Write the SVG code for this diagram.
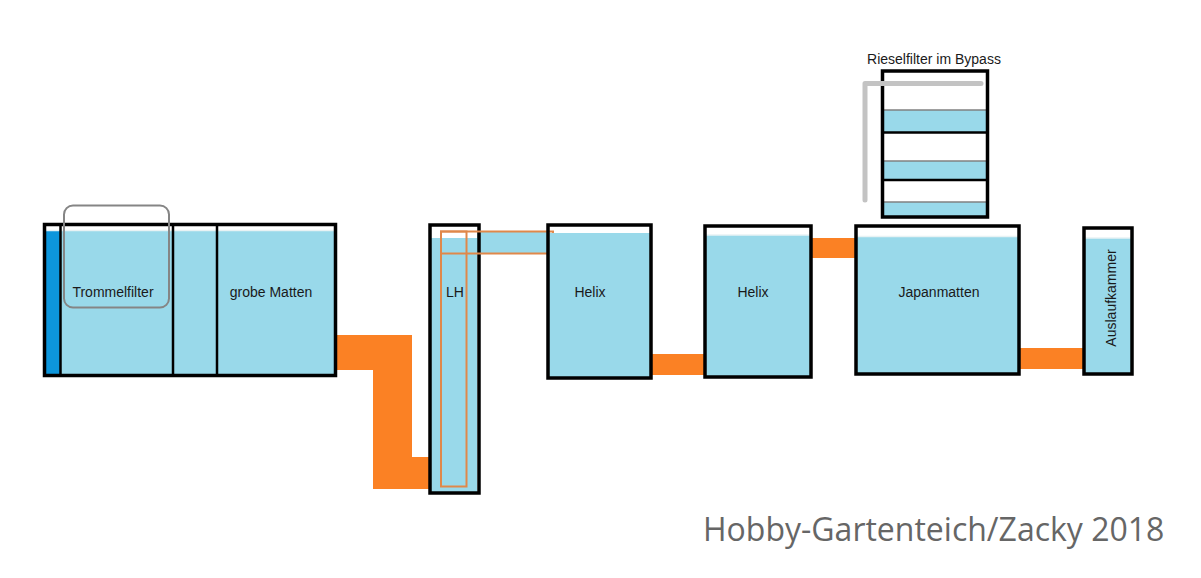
<svg xmlns="http://www.w3.org/2000/svg" width="1201" height="578" viewBox="0 0 1201 578">
<style>
.tank{fill:none;stroke:#000;stroke-width:3.5}
.water{fill:#99d9ea}
.surf{stroke:#e8f2f4;stroke-width:1.5}
.pipe{fill:#fb8124}
.lbl{font-family:"Liberation Sans",Arial,sans-serif;font-size:14px;fill:#1a1a1a;text-anchor:middle}
.div{stroke:#000;stroke-width:2.5}
.lhpipe{fill:none;stroke:#e0884a;stroke-width:2}
.gline{stroke:#808080;stroke-width:1.5}
</style>
<rect width="1201" height="578" fill="#fff"/>
<g id="connectors">
<polygon class="pipe" points="336,335 412,335 412,457 434,457 434,489 373,489 373,370 336,370"/>
<rect class="pipe" x="651" y="354" width="55" height="21"/>
<rect class="pipe" x="811" y="238" width="46" height="20"/>
<rect class="pipe" x="1019" y="348" width="66" height="21"/>
</g>
<g id="trommelfilter-tank">
<rect class="water" x="45" y="231" width="290" height="144"/>
<rect x="45" y="231" width="15" height="144" fill="#0d96dc"/>
<line class="surf" x1="45" y1="230.5" x2="335" y2="230.5"/>
<line class="div" x1="60.5" y1="224" x2="60.5" y2="376"/>
<line class="div" x1="173" y1="224" x2="173" y2="376"/>
<line class="div" x1="217" y1="224" x2="217" y2="376"/>
<rect class="tank" x="44.5" y="224.5" width="291" height="151"/>
<rect x="64" y="205.5" width="105" height="102" rx="9" fill="none" stroke="#858585" stroke-width="2"/>
<text class="lbl" x="113" y="297">Trommelfilter</text>
<text class="lbl" x="271" y="297">grobe Matten</text>
</g>
<g id="lh">
<rect class="water" x="431" y="238" width="46" height="254"/>
<rect class="water" x="477" y="232" width="72" height="21"/>
<rect class="tank" x="430" y="225" width="49" height="268"/>
<rect class="lhpipe" x="441" y="231.5" width="25.5" height="255"/>
<rect class="lhpipe" x="441" y="231.5" width="112" height="22"/>
<text class="lbl" x="455" y="297">LH</text>
</g>
<g id="helix1">
<rect class="water" x="549" y="233" width="101" height="144"/>
<rect class="tank" x="548" y="225" width="103" height="153"/>
<text class="lbl" x="590" y="297">Helix</text>
</g>
<g id="helix2">
<rect class="water" x="706" y="235" width="104" height="141"/>
<line class="surf" x1="706" y1="235" x2="810" y2="235"/>
<rect class="tank" x="705" y="226" width="106" height="151"/>
<text class="lbl" x="753" y="297">Helix</text>
</g>
<g id="rieselfilter">
<text class="lbl" x="934" y="64" font-size="13">Rieselfilter im Bypass</text>
<rect class="water" x="883" y="110" width="103" height="22"/>
<rect class="water" x="883" y="161" width="103" height="19"/>
<rect class="water" x="883" y="202" width="103" height="15"/>
<line class="gline" x1="883" y1="110" x2="986" y2="110"/>
<line class="gline" x1="883" y1="161" x2="986" y2="161"/>
<line class="gline" x1="883" y1="202" x2="986" y2="202"/>
<line class="div" x1="882" y1="132.5" x2="988" y2="132.5"/>
<line class="div" x1="882" y1="180" x2="988" y2="180"/>
<rect class="tank" x="882.5" y="71" width="105" height="146"/>
<polyline points="865,200 865,83.5 981,83.5" fill="none" stroke="#c3c3c3" stroke-width="5" stroke-linecap="round" stroke-linejoin="round"/>
</g>
<g id="japanmatten">
<rect class="water" x="857" y="237" width="161" height="136"/>
<line class="surf" x1="857" y1="236.5" x2="1018" y2="236.5"/>
<rect class="tank" x="856" y="226" width="163" height="148"/>
<text class="lbl" x="939" y="297">Japanmatten</text>
</g>
<g id="auslaufkammer">
<rect class="water" x="1085" y="238" width="46" height="135"/>
<line class="surf" x1="1085" y1="238" x2="1131" y2="238"/>
<rect class="tank" x="1084" y="228" width="48" height="146"/>
<text class="lbl" transform="translate(1115.5,298) rotate(-90)">Auslaufkammer</text>
</g>
<text x="703" y="541" font-family="'Open Sans',sans-serif" font-size="32" fill="#666">Hobby-Gartenteich/Zacky 2018</text>
</svg>
